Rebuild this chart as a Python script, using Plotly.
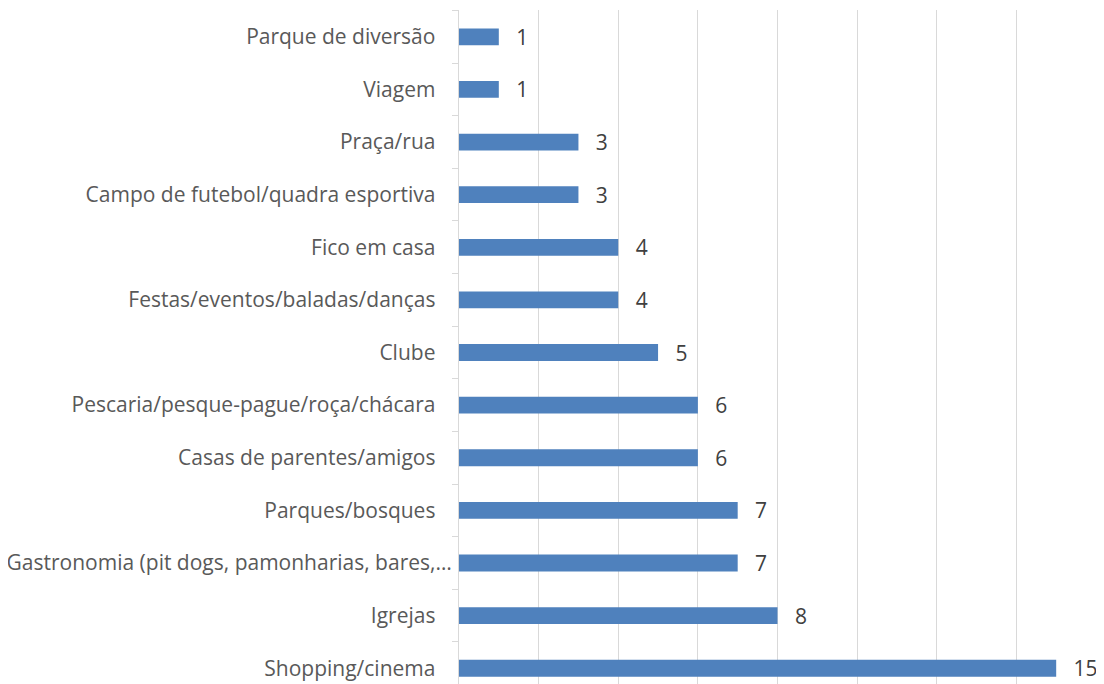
import plotly.graph_objects as go

categories = [
    "Shopping/cinema",
    "Igrejas",
    "Gastronomia (pit dogs, pamonharias, bares,…",
    "Parques/bosques",
    "Casas de parentes/amigos",
    "Pescaria/pesque-pague/roça/chácara",
    "Clube",
    "Festas/eventos/baladas/danças",
    "Fico em casa",
    "Campo de futebol/quadra esportiva",
    "Praça/rua",
    "Viagem",
    "Parque de diversão",
]
values = [15, 8, 7, 7, 6, 6, 5, 4, 4, 3, 3, 1, 1]

FONT = "Open Sans"
TXT = "#595959"
FS = 21

# truncated label (ending in an ellipsis) sits closer to the axis than the others
PAD = "\u00a0\u00a0\u00a0"
tick_text = [c if c.endswith("…") else c + PAD for c in categories]

fig = go.Figure(
    go.Bar(
        x=values,
        y=categories,
        orientation="h",
        marker=dict(color="#4f81bd", line=dict(width=0)),
        width=0.32,
        text=values,
        texttemplate="\u00a0\u00a0\u2009%{x}",
        textposition="outside",
        constraintext="none",
        textfont=dict(family=FONT, size=FS, color="#404040"),
        cliponaxis=False,
    )
)

# page body has an 8px margin, so the figure is sized/offset to compensate
fig.update_layout(
    width=1096,
    height=676,
    margin=dict(l=451, r=8, t=2, b=0, autoexpand=False),
    plot_bgcolor="white",
    paper_bgcolor="white",
    showlegend=False,
    font=dict(family=FONT, size=FS, color=TXT),
    xaxis=dict(
        range=[0, 16],
        dtick=2,
        showgrid=True,
        gridcolor="#d9d9d9",
        gridwidth=1,
        zeroline=False,
        showticklabels=False,
        showline=False,
        automargin=False,
    ),
    yaxis=dict(
        type="category",
        categoryorder="array",
        categoryarray=categories,
        tickvals=categories,
        ticktext=tick_text,
        range=[-0.30, 12.51],
        showline=True,
        linecolor="#d9d9d9",
        linewidth=1,
        ticks="outside",
        ticklen=6,
        tickcolor="#d9d9d9",
        tickson="boundaries",
        ticklabelstandoff=2,
        showgrid=False,
        automargin=False,
        tickfont=dict(family=FONT, size=FS, color=TXT),
    ),
)

fig.write_html("out.html")
